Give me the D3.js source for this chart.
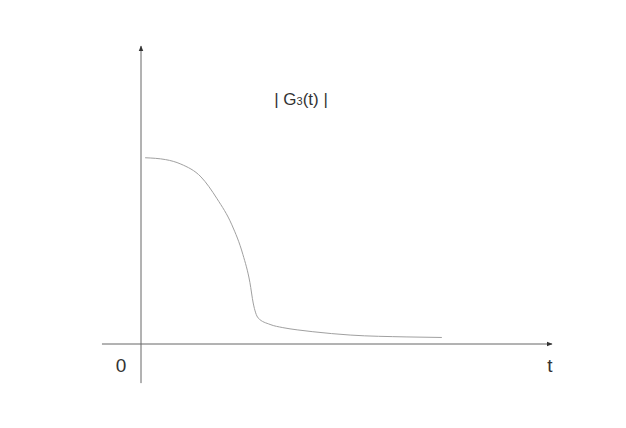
<!DOCTYPE html>
<html><head><meta charset="utf-8">
<script src="https://cdn.jsdelivr.net/npm/d3@7"></script>
<style>body{margin:0;background:#fff}svg{display:block}</style>
</head><body>
<svg id="c" width="626" height="428"></svg>
<script>
// Data
const tValues = [0.1, 0.6, 0.97, 1.46, 1.85, 2.21, 2.48, 2.65, 2.73, 2.85, 3.14, 3.45, 3.8, 4.18, 5.09, 6.47, 7.32];
const gValues = [1.0, 0.99, 0.966, 0.897, 0.78, 0.64, 0.48, 0.33, 0.22, 0.14, 0.105, 0.088, 0.076, 0.066, 0.048, 0.038, 0.035];
const axisLabels = {origin: "0", x: "t"};
const curveLabel = ["| G", "3", "(t) |"];
const xAxisExtent = [-0.95, 10];
const yAxisExtent = [-0.21, 1.6];

const svg = d3.select("#c");
const x = d3.scaleLinear().domain([0, 10]).range([141, 552]);
const y = d3.scaleLinear().domain([0, 1.6]).range([344, 46]);

const defs = svg.append("defs");
defs.append("marker").attr("id","arr").attr("viewBox","0 0 10 10")
  .attr("refX",9).attr("refY",5).attr("markerWidth",6).attr("markerHeight",6)
  .attr("orient","auto").append("path").attr("d","M0,1 L10,5 L0,9 Z").attr("fill","#333");

// axes
svg.append("line").attr("x1", x(xAxisExtent[0])).attr("x2", x(xAxisExtent[1]))
  .attr("y1", y(0)).attr("y2", y(0)).attr("stroke","#666").attr("stroke-width",1)
  .attr("marker-end","url(#arr)");
svg.append("line").attr("x1", x(0)).attr("x2", x(0))
  .attr("y1", y(yAxisExtent[0])).attr("y2", y(yAxisExtent[1])).attr("stroke","#666").attr("stroke-width",1)
  .attr("marker-end","url(#arr)");

// curve
const pts = tValues.map((t,i)=>[t,gValues[i]]);
svg.append("path").datum(pts)
  .attr("d", d3.line().x(d=>x(d[0])).y(d=>y(d[1])).curve(d3.curveMonotoneX))
  .attr("fill","none").attr("stroke","#a0a0a0").attr("stroke-width",1);

// labels
const font = "'Liberation Sans', Arial, sans-serif";
svg.append("text").attr("x", 121).attr("y", 372).attr("text-anchor","middle")
  .attr("font-family",font).attr("font-size",19).attr("fill","#333").text(axisLabels.origin);
svg.append("text").attr("x", 550).attr("y", 372).attr("text-anchor","middle")
  .attr("font-family",font).attr("font-size",19).attr("fill","#333").text(axisLabels.x);
const title = svg.append("text").attr("x", 301).attr("y", 105).attr("text-anchor","middle")
  .attr("font-family",font).attr("font-size",17).attr("fill","#333").attr("xml:space","preserve");
title.append("tspan").text(curveLabel[0]);
title.append("tspan").attr("font-size",11).text(curveLabel[1]);
title.append("tspan").text(curveLabel[2]);
</script>
</body></html>
